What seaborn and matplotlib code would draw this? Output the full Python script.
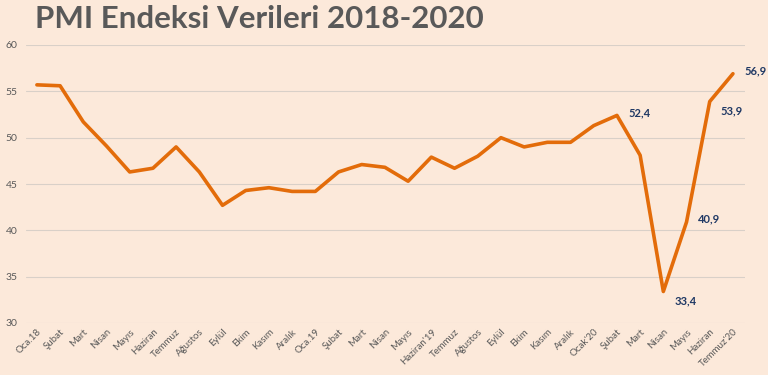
import pandas as pd
import matplotlib.pyplot as plt
import seaborn as sns

# PMI values, Jan 2018 - Jul 2020
months = ["Oca.18", "Şubat", "Mart", "Nisan", "Mayıs", "Haziran", "Temmuz",
          "Ağustos", "Eylül", "Ekim", "Kasım", "Aralık", "Oca.19", "Şubat",
          "Mart", "Nisan", "Mayıs", "Haziran'19", "Temmuz", "Ağustos", "Eylül",
          "Ekim", "Kasım", "Aralık", "Ocak'20", "Şubat", "Mart", "Nisan",
          "Mayıs", "Haziran", "Temmuz'20"]
pmi = [55.7, 55.6, 51.7, 49.1, 46.3, 46.7, 49.0, 46.3, 42.7, 44.3, 44.6,
       44.2, 44.2, 46.3, 47.1, 46.8, 45.3, 47.9, 46.7, 48.0, 50.0, 49.0,
       49.5, 49.5, 51.3, 52.4, 48.1, 33.4, 40.9, 53.9, 56.9]
labelled = [25, 27, 28, 29, 30]

df = pd.DataFrame({"idx": range(len(months)), "pmi": pmi})

bg = "#FCE9DA"
sns.set_style("white")
plt.rcParams["font.family"] = ["Lato", "DejaVu Sans"]

fig = plt.figure(figsize=(7.68, 3.75), dpi=100, facecolor=bg)
ax = fig.add_axes([26 / 768, 1 - 323 / 375, (745 - 26) / 768, (323 - 45) / 375])
ax.set_facecolor(bg)

sns.lineplot(data=df, x="idx", y="pmi", color="#E36C0A", linewidth=2.6, ax=ax)

# data labels
for i in labelled:
    dy = -7 if i in (27, 29) else 2
    ax.annotate(f"{pmi[i]:.1f}".replace(".", ","), (i, pmi[i]),
                xytext=(8, dy), textcoords="offset points",
                fontsize=8, fontweight="bold", color="#1F3864",
                va="center", ha="left")

ax.set_ylim(30, 60)
ax.set_yticks(range(30, 61, 5))
ax.set_xlim(-0.47, 30.52)
ax.set_xticks(range(len(months)))
ax.set_xticklabels(months, rotation=45, ha="right", rotation_mode="anchor",
                   fontsize=7, color="#595959")
ax.tick_params(axis="y", labelsize=7.5, labelcolor="#595959", length=0, pad=6)
ax.tick_params(axis="x", length=0, pad=3)
ax.yaxis.grid(True, color="#D9D0C8", linewidth=0.8)
ax.set_axisbelow(True)
for s in ax.spines.values():
    s.set_visible(False)
ax.set_xlabel("")
ax.set_ylabel("")

fig.text(35 / 768, 1 - 19 / 375, "PMI Endeksi Verileri 2018-2020",
         fontsize=22.5, fontweight="bold", color="#595959", va="center", ha="left")

fig.savefig("out.png", dpi=100, facecolor=bg)
